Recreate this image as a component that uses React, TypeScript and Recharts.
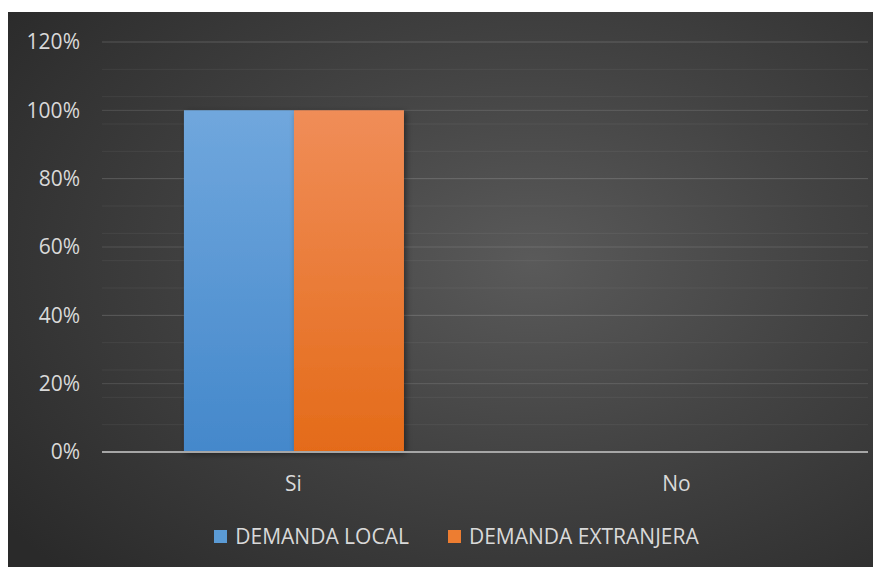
import {
  BarChart,
  Bar,
  XAxis,
  YAxis,
  CartesianGrid,
  Legend,
} from "recharts";

const categories = ["Si", "No"];
const demandaLocal = [100, 0];
const demandaExtranjera = [100, 0];
const seriesNames = ["DEMANDA LOCAL", "DEMANDA EXTRANJERA"];
const seriesColors = ["#5b9bd5", "#ed7d31"];
const yTicks = [0, 20, 40, 60, 80, 100, 120];
const minorTicks = [
  0, 4, 8, 12, 16, 20, 24, 28, 32, 36, 40, 44, 48, 52, 56, 60, 64, 68, 72,
  76, 80, 84, 88, 92, 96, 100, 104, 108, 112, 116, 120,
];

const data = categories.map((c, i) => ({
  name: c,
  local: demandaLocal[i],
  extranjera: demandaExtranjera[i],
}));

const FONT = "'Open Sans', sans-serif";
const TEXT = "#d9d9d9";

const LegendContent = () => (
  <div
    style={{
      display: "flex",
      justifyContent: "center",
      alignItems: "center",
      height: 24,
      fontFamily: FONT,
      fontSize: 21,
      color: TEXT,
      paddingLeft: 37,
    }}
  >
    {seriesNames.map((name, i) => (
      <div
        key={name}
        style={{ display: "flex", alignItems: "center", marginLeft: i ? 39 : 0 }}
      >
        <span
          style={{
            width: 13,
            height: 13,
            background: seriesColors[i],
            display: "inline-block",
            marginRight: 8,
          }}
        />
        <span>{name}</span>
      </div>
    ))}
  </div>
);

export default function App() {
  return (
    <div style={{ paddingTop: 4 }}>
      <div
        style={{
          width: 873,
          height: 555,
          background:
            "radial-gradient(ellipse 75% 80% at 60% 45%, #5a5a5a 0%, #434343 45%, #2a2a2a 100%)",
        }}
      >
        <BarChart
          width={873}
          height={555}
          data={data}
          margin={{ top: 30, right: 13, left: 0, bottom: 61 }}
          barCategoryGap="21.4%"
          barGap={0}
        >
          <defs>
            <linearGradient id="gLocal" x1="0" y1="0" x2="0" y2="1">
              <stop offset="0%" stopColor="#70a7dd" />
              <stop offset="100%" stopColor="#4488cb" />
            </linearGradient>
            <linearGradient id="gExt" x1="0" y1="0" x2="0" y2="1">
              <stop offset="0%" stopColor="#f08d58" />
              <stop offset="100%" stopColor="#e46b19" />
            </linearGradient>
            <filter id="shadow" x="-10%" y="-10%" width="130%" height="130%">
              <feDropShadow dx="2" dy="2" stdDeviation="3" floodColor="#000" floodOpacity="0.45" />
            </filter>
          </defs>
          {/* minor lines every 4% */}
          <CartesianGrid
            yAxisId="main"
            horizontalValues={minorTicks}
            vertical={false}
            stroke="rgba(255,255,255,0.06)"
            strokeWidth={1}
          />
          <CartesianGrid
            yAxisId="main"
            horizontalValues={yTicks}
            vertical={false}
            stroke="rgba(255,255,255,0.13)"
            strokeWidth={1}
          />
          <XAxis
            dataKey="name"
            height={30}
            axisLine={{ stroke: "#a6a6a6", strokeWidth: 2 }}
            tickLine={false}
            tickMargin={18}
            tick={{ fill: TEXT, fontSize: 21, fontFamily: FONT }}
          />
          <YAxis
            yAxisId="main"
            width={94}
            domain={[0, 120]}
            ticks={yTicks}
            tickFormatter={(v) => `${v}%`}
            axisLine={false}
            tickLine={false}
            tickMargin={16}
            tick={{ fill: TEXT, fontSize: 21, fontFamily: FONT }}
          />
          <Legend
            verticalAlign="bottom"
            wrapperStyle={{ bottom: 19 }}
            content={<LegendContent />}
          />
          <Bar
            yAxisId="main"
            dataKey="local"
            name={seriesNames[0]}
            fill="url(#gLocal)"
            filter="url(#shadow)"
            isAnimationActive={false}
          />
          <Bar
            yAxisId="main"
            dataKey="extranjera"
            name={seriesNames[1]}
            fill="url(#gExt)"
            filter="url(#shadow)"
            isAnimationActive={false}
          />
        </BarChart>
      </div>
    </div>
  );
}
